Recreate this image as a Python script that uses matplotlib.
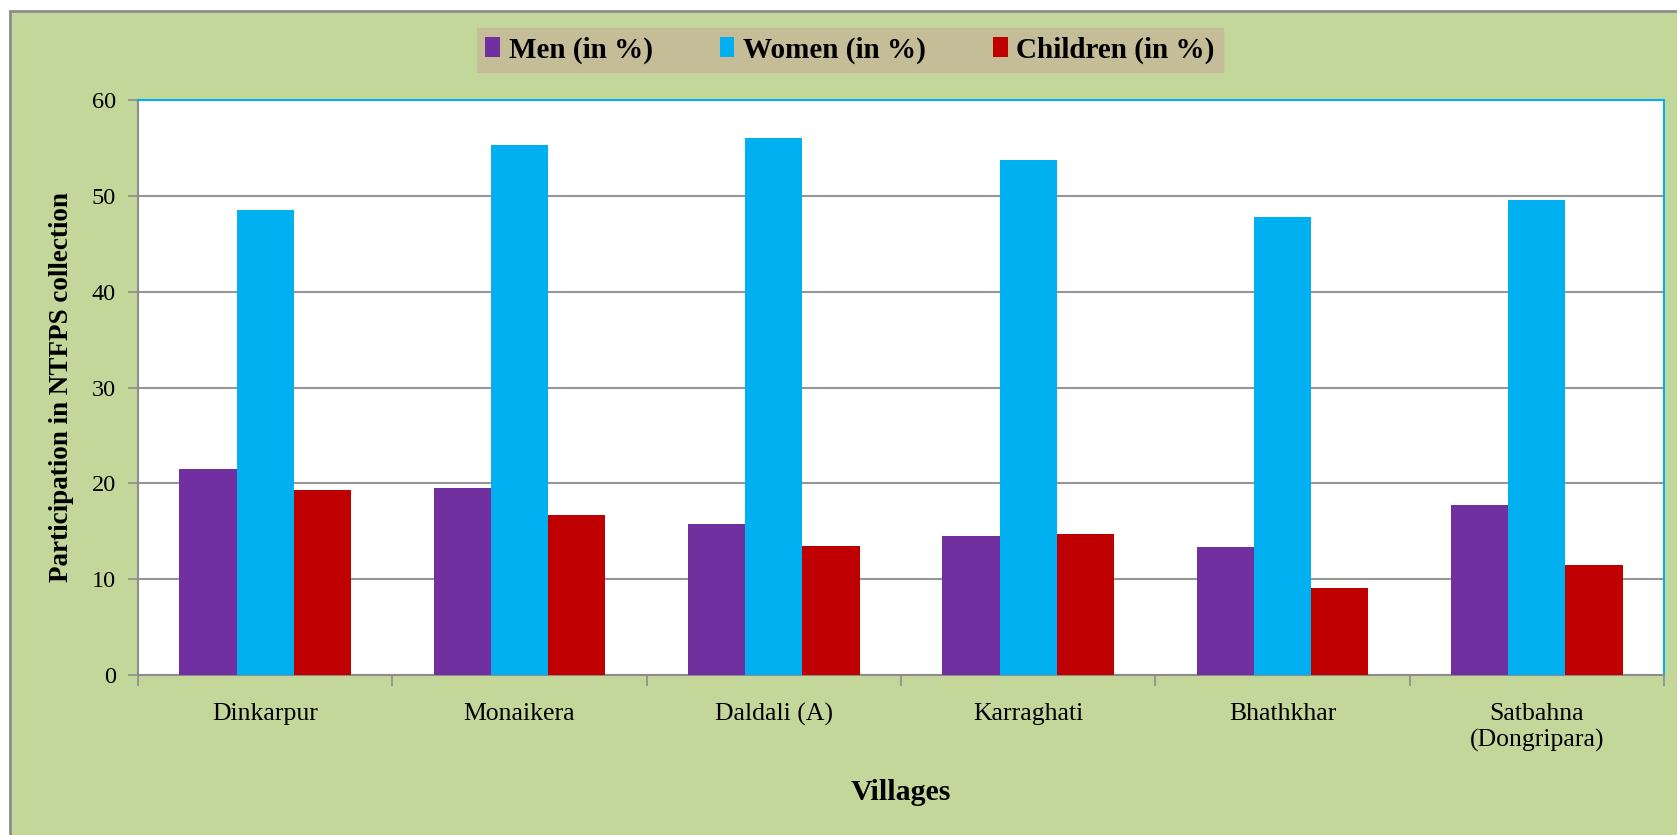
import numpy as np
import matplotlib.pyplot as plt
from matplotlib.patches import Rectangle

# Data
villages = ["Dinkarpur", "Monaikera", "Daldali (A)", "Karraghati", "Bhathkhar", "Satbahna\n(Dongripara)"]
men = [21.5, 19.5, 15.8, 14.5, 13.4, 17.7]
women = [48.5, 55.3, 56.0, 53.7, 47.8, 49.6]
children = [19.3, 16.7, 13.5, 14.7, 9.1, 11.5]

plt.rcParams["font.family"] = ["Liberation Serif", "DejaVu Serif"]

W, H = 1677, 835
fig = plt.figure(figsize=(W / 100, H / 100), dpi=100, facecolor="white")

# green chart area with grey frame
fig.patches.append(Rectangle((9.5 / W, -0.05), 1.1, 1 - 10.5 / H + 0.05,
                             transform=fig.transFigure, facecolor="#C4D79B",
                             edgecolor="#8C8C8C", linewidth=2, zorder=-10))

ax = fig.add_axes([138 / W, 1 - 675 / H, (1664 - 138) / W, (675 - 100) / H])
ax.set_facecolor("white")

x = np.arange(len(villages))
w = 0.225
ax.bar(x - w, men, w, color="#7030A0", label="Men (in %)", zorder=3)
ax.bar(x, women, w, color="#00B0F0", label="Women (in %)", zorder=3)
ax.bar(x + w, children, w, color="#C00000", label="Children (in %)", zorder=3)

ax.set_xlim(-0.5, len(villages) - 0.5)
ax.set_ylim(0, 60)
ax.set_yticks(range(0, 61, 10))
ax.yaxis.grid(True, color="#969696", linewidth=1.5, zorder=1)
ax.set_axisbelow(True)

ax.set_xticks(x)
ax.set_xticklabels(villages, fontsize=18.5, linespacing=1.25)
ax.set_xticks(np.arange(-0.5, len(villages), 1), minor=True)
ax.tick_params(axis="x", which="major", length=0, pad=20)
ax.tick_params(axis="x", which="minor", length=8, width=1.2, color="#8C8C8C", direction="out")
ax.tick_params(axis="y", length=7, width=1.2, color="#8C8C8C", direction="out",
               labelsize=17.5, pad=9)

for s in ["left", "bottom"]:
    ax.spines[s].set_color("#8C8C8C")
    ax.spines[s].set_linewidth(1.5)
for s in ["top", "right"]:
    ax.spines[s].set_color("#00B0F0")
    ax.spines[s].set_linewidth(1.5)

ax.set_ylabel("Participation in NTFPS collection", fontsize=19.5, fontweight="bold")
ax.yaxis.set_label_coords(-0.042, 0.5)
ax.set_xlabel("Villages", fontsize=21.5, fontweight="bold")
ax.xaxis.set_label_coords(0.5, -0.18)

leg = fig.legend(loc="center", bbox_to_anchor=(850 / W, 1 - 50 / H), ncol=3,
                 frameon=True, fancybox=False, facecolor="#C4BD97", edgecolor="#C4BD97",
                 framealpha=1, prop={"weight": "bold", "size": 21},
                 handlelength=0.5, handleheight=0.7, handletextpad=0.3,
                 columnspacing=2.3, borderpad=0.3, borderaxespad=0)

fig.savefig("out.png", dpi=100)
